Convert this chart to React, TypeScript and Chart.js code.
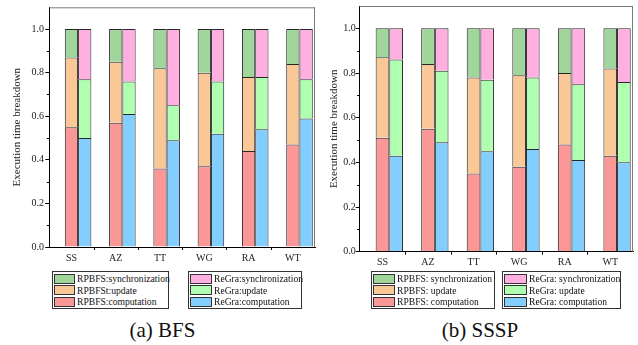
import React, { useEffect, useRef } from 'react';
import { Chart, registerables } from 'chart.js';

Chart.register(...registerables);

// ---------- data ----------
const categories = ['SS', 'AZ', 'TT', 'WG', 'RA', 'WT'];
const yTickValues = [0, 0.2, 0.4, 0.6, 0.8, 1.0];
const yMinorTickValues = [0.1, 0.3, 0.5, 0.7, 0.9];
const xBoundaryTicks = [0.5, 1.5, 2.5, 3.5, 4.5];

// (a) BFS
const bfsRpComputation = [0.55, 0.57, 0.36, 0.37, 0.44, 0.47];
const bfsRpUpdate = [0.32, 0.28, 0.46, 0.43, 0.34, 0.37];
const bfsRpSync = [0.13, 0.15, 0.18, 0.2, 0.22, 0.16];
const bfsRgComputation = [0.5, 0.61, 0.49, 0.52, 0.54, 0.59];
const bfsRgUpdate = [0.27, 0.15, 0.16, 0.24, 0.24, 0.18];
const bfsRgSync = [0.23, 0.24, 0.35, 0.24, 0.22, 0.23];

// (b) SSSP
const ssspRpComputation = [0.51, 0.55, 0.35, 0.38, 0.48, 0.43];
const ssspRpUpdate = [0.36, 0.29, 0.43, 0.41, 0.32, 0.39];
const ssspRpSync = [0.13, 0.16, 0.22, 0.21, 0.2, 0.18];
const ssspRgComputation = [0.43, 0.49, 0.45, 0.46, 0.41, 0.4];
const ssspRgUpdate = [0.43, 0.32, 0.32, 0.32, 0.34, 0.36];
const ssspRgSync = [0.14, 0.19, 0.23, 0.22, 0.25, 0.24];

// legend labels (sync, update, computation)
const bfsRpLabels = ['RPBFS:synchronization', 'RPBFSt:update', 'RPBFS:computation'];
const bfsRgLabels = ['ReGra:synchronization', 'ReGra:update', 'ReGra:computation'];
const ssspRpLabels = ['RPBFS: synchronization', 'RPBFS: update', 'RPBFS: computation'];
const ssspRgLabels = ['ReGra: synchronization', 'ReGra: update', 'ReGra: computation'];

const yTitle = 'Execution time breakdown';

// ---------- styles ----------
const FONT = "'Liberation Serif', 'Times New Roman', serif";
const COLORS = {
  rpSync: '#A0D69C',
  rpUpd: '#FAC896',
  rpComp: '#FC9797',
  rgSync: '#FFB0E0',
  rgUpd: '#B0FFB0',
  rgComp: '#82CFFF',
};
const CAT_PCT = 0.6;
const BAR_SHIFT = CAT_PCT / 4; // left bar of each pair centred on its category tick

type Series = {
  rpComp: number[]; rpUpd: number[]; rpSync: number[];
  rgComp: number[]; rgUpd: number[]; rgSync: number[];
  rpLabels: string[]; rgLabels: string[];
};

type Geo = {
  left: number; width: number; height: number;
  axisW: number; bottomY: number; topPad: number; rightPad: number;
  titlePad: number; tickPad: number;
};

const framePlugin = {
  id: 'frame',
  afterDraw(chart: any) {
    const { ctx, chartArea } = chart;
    const { left, right, top, bottom } = chartArea;
    ctx.save();
    ctx.strokeStyle = '#7a7a7a';
    ctx.lineWidth = 1;
    ctx.beginPath();
    ctx.moveTo(left, top + 0.5);
    ctx.lineTo(right, top + 0.5);
    ctx.moveTo(right - 0.5, top);
    ctx.lineTo(right - 0.5, bottom);
    ctx.stroke();
    const ys = chart.scales.y;
    const xs = chart.scales.x;
    ctx.strokeStyle = '#000';
    ctx.beginPath();
    for (const v of yMinorTickValues) {
      const py = Math.round(ys.getPixelForValue(v)) + 0.5;
      ctx.moveTo(left - 2.5, py);
      ctx.lineTo(left, py);
    }
    for (const v of xBoundaryTicks) {
      const px = Math.round(xs.getPixelForValue(v)) + 0.5;
      ctx.moveTo(px, bottom);
      ctx.lineTo(px, bottom + 3);
    }
    ctx.stroke();
    ctx.restore();
  },
};

function toPoints(arr: number[]) {
  return arr.map((v, i) => ({ x: i + BAR_SHIFT, y: v }));
}

function StackChart({ s, g }: { s: Series; g: Geo }) {
  const ref = useRef<HTMLCanvasElement | null>(null);
  useEffect(() => {
    if (!ref.current) return;
    const mk = (label: string, data: number[], color: string, stack: string) => ({
      label,
      data: toPoints(data),
      backgroundColor: color,
      borderColor: '#262626',
      borderWidth: 1,
      stack,
    });
    const chart = new Chart(ref.current, {
      type: 'bar',
      data: {
        datasets: [
          mk(s.rpLabels[2], s.rpComp, COLORS.rpComp, 'rp'),
          mk(s.rpLabels[1], s.rpUpd, COLORS.rpUpd, 'rp'),
          mk(s.rpLabels[0], s.rpSync, COLORS.rpSync, 'rp'),
          mk(s.rgLabels[2], s.rgComp, COLORS.rgComp, 'rg'),
          mk(s.rgLabels[1], s.rgUpd, COLORS.rgUpd, 'rg'),
          mk(s.rgLabels[0], s.rgSync, COLORS.rgSync, 'rg'),
        ] as any,
      },
      options: {
        responsive: false,
        maintainAspectRatio: false,
        animation: false,
        layout: { padding: { left: 0, right: g.rightPad, top: g.topPad, bottom: 0 } },
        datasets: { bar: { categoryPercentage: CAT_PCT, barPercentage: 1 } } as any,
        plugins: { legend: { display: false }, tooltip: { enabled: false } },
        scales: {
          x: {
            type: 'linear',
            stacked: true,
            offset: false,
            min: -0.5,
            max: 5.5,
            afterBuildTicks: (sc: any) => {
              sc.ticks = categories.map((_, i) => ({ value: i }));
            },
            afterFit: (sc: any) => { sc.height = g.height - g.bottomY; },
            ticks: {
              autoSkip: false,
              maxRotation: 0,
              padding: 2,
              color: '#222',
              font: { family: FONT, size: 10 },
              callback: (v: any) => categories[v] ?? '',
            },
            grid: {
              offset: false,
              drawOnChartArea: false,
              drawTicks: true,
              tickLength: 3,
              tickColor: 'rgba(0,0,0,0)',
            },
            border: { color: '#000', width: 1 },
          } as any,
          y: {
            type: 'linear',
            stacked: true,
            min: 0,
            max: 1.1,
            afterBuildTicks: (sc: any) => {
              sc.ticks = yTickValues.map((v) => ({ value: v }));
            },
            afterFit: (sc: any) => { sc.width = g.axisW; },
            ticks: {
              padding: g.tickPad,
              color: '#222',
              font: { family: FONT, size: 10 },
              callback: (v: any) => Number(v).toFixed(1),
            },
            grid: { drawOnChartArea: false, drawTicks: true, tickLength: 4, tickColor: '#000' },
            border: { color: '#000', width: 1 },
            title: {
              display: true,
              text: yTitle,
              color: '#222',
              font: { family: FONT, size: 11 },
              padding: { top: g.titlePad, bottom: 0 },
            },
          } as any,
        },
      },
      plugins: [framePlugin],
    });
    return () => chart.destroy();
  }, []);
  return (
    <canvas
      ref={ref}
      width={g.width}
      height={g.height}
      style={{ position: 'absolute', left: g.left, top: 0, width: g.width, height: g.height }}
    />
  );
}

function Legend({ left, width, swatchW, labels, colors }: {
  left: number; width: number; swatchW: number; labels: string[]; colors: string[];
}) {
  return (
    <div
      style={{
        position: 'absolute', left, top: 271, width, height: 38, boxSizing: 'border-box',
        border: '1px solid #333', paddingTop: 1, background: '#fff',
      }}
    >
      {labels.map((t, i) => (
        <div key={i} style={{ display: 'flex', alignItems: 'center', height: 11.5 }}>
          <div
            style={{
              width: swatchW, height: 10, boxSizing: 'border-box', marginLeft: 1,
              border: '1px solid #333', background: colors[i], flex: 'none',
            }}
          />
          <span
            style={{
              marginLeft: 2, fontFamily: FONT, fontSize: 9.6, color: '#111',
              whiteSpace: 'nowrap', lineHeight: '11px',
            }}
          >
            {t}
          </span>
        </div>
      ))}
    </div>
  );
}

function Caption({ cx, text }: { cx: number; text: string }) {
  return (
    <div
      style={{
        position: 'absolute', left: cx - 80, width: 160, top: 317, textAlign: 'center',
        fontFamily: FONT, fontSize: 21, lineHeight: '26px', color: '#111',
      }}
    >
      {text}
    </div>
  );
}

export default function App() {
  const bfs: Series = {
    rpComp: bfsRpComputation, rpUpd: bfsRpUpdate, rpSync: bfsRpSync,
    rgComp: bfsRgComputation, rgUpd: bfsRgUpdate, rgSync: bfsRgSync,
    rpLabels: bfsRpLabels, rgLabels: bfsRgLabels,
  };
  const sssp: Series = {
    rpComp: ssspRpComputation, rpUpd: ssspRpUpdate, rpSync: ssspRpSync,
    rgComp: ssspRgComputation, rgUpd: ssspRgUpdate, rgSync: ssspRgSync,
    rpLabels: ssspRpLabels, rgLabels: ssspRgLabels,
  };
  const rpColors = [COLORS.rpSync, COLORS.rpUpd, COLORS.rpComp];
  const rgColors = [COLORS.rgSync, COLORS.rgUpd, COLORS.rgComp];
  return (
    <div style={{ position: 'absolute', left: 0, top: 0, width: 638, height: 345, background: '#fff', overflow: 'hidden' }}>
      <StackChart
        s={bfs}
        g={{ left: 0, width: 318, height: 268, axisW: 49.3, bottomY: 247, topPad: 6, rightPad: 3, titlePad: 10.4, tickPad: 1.3 }}
      />
      <StackChart
        s={sssp}
        g={{ left: 318, width: 320, height: 272, axisW: 41.7, bottomY: 251.7, topPad: 5, rightPad: 5, titlePad: 9.9, tickPad: 0 }}
      />
      <Legend left={52} width={117} swatchW={21} labels={bfsRpLabels} colors={rpColors} />
      <Legend left={188} width={114} swatchW={22} labels={bfsRgLabels} colors={rgColors} />
      <Legend left={371} width={124} swatchW={22} labels={ssspRpLabels} colors={rpColors} />
      <Legend left={502} width={119} swatchW={23} labels={ssspRgLabels} colors={rgColors} />
      <Caption cx={162.5} text="(a) BFS" />
      <Caption cx={480} text="(b) SSSP" />
    </div>
  );
}
